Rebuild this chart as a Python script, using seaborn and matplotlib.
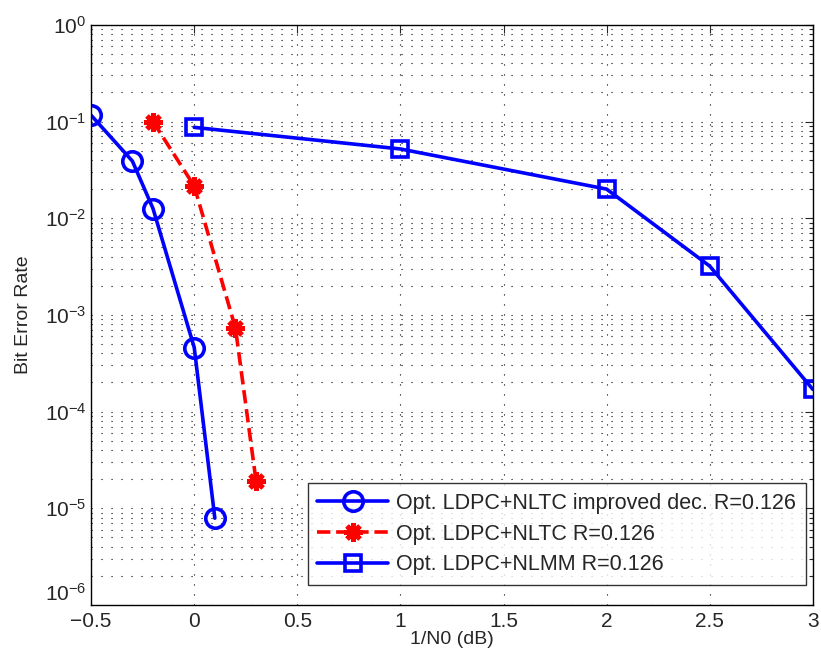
import numpy as np
import pandas as pd
import matplotlib
matplotlib.use("Agg")
import matplotlib.pyplot as plt
import seaborn as sns
from matplotlib.ticker import LogLocator, NullFormatter

# 数据：三条误码率曲线
snr_improved = [-0.5, -0.3, -0.2, 0.0, 0.1]
ber_improved = [0.116, 0.039, 0.0126, 4.6e-4, 7.9e-6]

snr_nltc = [-0.2, 0.0, 0.2, 0.3]
ber_nltc = [0.10, 0.0215, 7.3e-4, 1.9e-5]

snr_nlmm = [0.0, 1.0, 2.0, 2.5, 3.0]
ber_nlmm = [0.087, 0.052, 0.020, 3.2e-3, 1.7e-4]

labels = ["Opt. LDPC+NLTC improved dec. R=0.126",
          "Opt. LDPC+NLTC R=0.126",
          "Opt. LDPC+NLMM R=0.126"]
xticks = [-0.5, 0, 0.5, 1, 1.5, 2, 2.5, 3]
xticklabels = ['\u22120.5', '0', '0.5', '1', '1.5', '2', '2.5', '3']
yticks = [1e-6, 1e-5, 1e-4, 1e-3, 1e-2, 1e-1, 1e0]
yticklabels = ['$10^{-6}$', '$10^{-5}$', '$10^{-4}$', '$10^{-3}$',
               '$10^{-2}$', '$10^{-1}$', '$10^{0}$']

sns.set_style("white")
plt.rcParams['font.family'] = ['Liberation Sans', 'DejaVu Sans']
plt.rcParams['mathtext.fontset'] = 'custom'
plt.rcParams['mathtext.rm'] = 'Liberation Sans'
plt.rcParams['mathtext.it'] = 'Liberation Sans'

fig = plt.figure(figsize=(8.21, 6.53), dpi=100)
ax = fig.add_axes([0.111, 0.0735, 0.879, 0.8885])

sns.lineplot(x=snr_improved, y=ber_improved, ax=ax, color='#0000ff', lw=2.6,
             marker='o', markersize=14, markerfacecolor='none',
             markeredgecolor='#0000ff', markeredgewidth=2.6, label=labels[0])
sns.lineplot(x=snr_nltc, y=ber_nltc, ax=ax, color='#ff0000', lw=2.6,
             linestyle='--', dashes=(3.5, 2.5), marker=(8, 2, 0), markersize=13,
             markeredgecolor='#ff0000', markeredgewidth=3.5, label=labels[1])
sns.lineplot(x=snr_nlmm, y=ber_nlmm, ax=ax, color='#0000ff', lw=2.6,
             marker='s', markersize=12, markerfacecolor='none',
             markeredgecolor='#0000ff', markeredgewidth=2.6, label=labels[2])

ax.set_yscale('log')
ax.set_xlim(-0.5, 3)
ax.set_ylim(1e-6, 1)
ax.set_xticks(xticks)
ax.set_xticklabels(xticklabels)
ax.set_yticks(yticks)
ax.set_yticklabels(yticklabels)
ax.yaxis.set_minor_locator(LogLocator(base=10, subs=np.arange(2, 10), numticks=20))
ax.yaxis.set_minor_formatter(NullFormatter())
ax.set_ylim(1e-6, 1)

dot = (0, (1, 8))
ax.grid(True, which='major', axis='both', color='black', linestyle=dot, lw=0.8)
ax.grid(True, which='minor', axis='y', color='black', linestyle=dot, lw=0.8)
ax.tick_params(which='both', direction='in', top=True, right=True, labelsize=15)
ax.tick_params(axis='x', pad=5)
ax.tick_params(which='major', length=6, width=0.8)
ax.tick_params(which='minor', length=3, width=0.8)
for s in ax.spines.values():
    s.set_color('black')
    s.set_linewidth(1.0)

ax.get_yticklabels()[0].set_va('bottom')

ax.set_xlabel("1/N0 (dB)", fontsize=14, labelpad=0)
ax.set_ylabel("Bit Error Rate", fontsize=14, labelpad=9)

leg = ax.legend(loc='lower right', fontsize=15.5, frameon=True, fancybox=False,
                edgecolor='black', handlelength=3.3, handletextpad=0.35,
                borderpad=0.45, labelspacing=0.45, borderaxespad=0,
                bbox_to_anchor=(0.990, 0.0345))
leg.get_frame().set_linewidth(1.0)

fig.savefig("out.png", dpi=100)
